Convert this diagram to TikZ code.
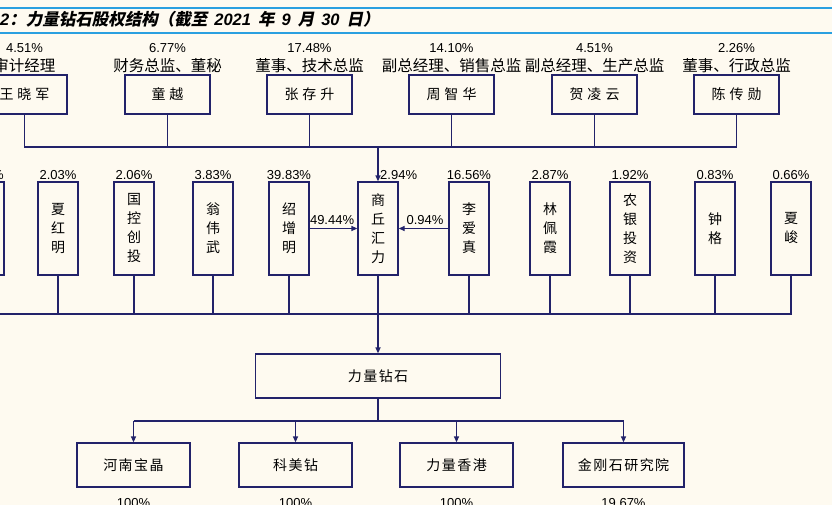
\documentclass[tikz,border=0pt]{standalone}
\usepackage{fontspec}
\setmainfont{Liberation Sans}
\newfontfamily\cjk{Noto Sans CJK SC}
\newfontfamily\cjkt[FakeSlant=0.2]{Noto Sans CJK SC}
\usetikzlibrary{arrows.meta}
\definecolor{bgc}{HTML}{FEFAF0}
\definecolor{nv}{HTML}{22226A}
\definecolor{blc}{HTML}{2AA0E0}
\newcommand\gp{\hspace{4pt}}
\newcommand\gq{\hspace{1.5pt}}
\newcommand\tsp{\hspace{7pt}}
\tikzset{
  pbox/.style={draw=nv, line width=1.3pt, fill=bgc, minimum width=85pt, minimum height=39pt, inner sep=0pt, font=\cjk\fontsize{14}{16}\selectfont},
  vbox/.style={draw=nv, line width=1.3pt, fill=bgc, minimum width=40pt, minimum height=93pt, inner sep=0pt, align=center, font=\cjk\fontsize{14}{19}\selectfont},
  bbox/.style={draw=nv, line width=1.3pt, fill=bgc, minimum height=44pt, inner sep=0pt, font=\cjk\fontsize{14}{16}\selectfont},
  pct/.style={font=\fontsize{13}{15}\selectfont, inner sep=0pt},
  role/.style={font=\cjk\fontsize{15.5}{17}\selectfont, inner sep=0pt},
  ln/.style={draw=nv, line width=1.3pt},
  thk/.style={draw=nv, line width=2.3pt},
  arr/.style={-{Triangle[length=6pt,width=5pt]}},
}
\begin{document}
\begin{tikzpicture}[x=1pt,y=-1pt]
\useasboundingbox (0,0) rectangle (832,505);
\fill[bgc] (0,0) rectangle (832,505);
% header
\draw[blc, line width=1.2pt] (0,8) -- (832,8);
\draw[blc, line width=1.2pt] (0,33) -- (832,33);
\node[anchor=west, inner sep=0pt] (title) at (0,19) {\fontsize{16.5}{18}\selectfont{\bfseries\itshape 2}{\cjkt\bfseries ：力量钻石股权结构（截至}\tsp{\bfseries\itshape 2021}\tsp{\cjkt\bfseries 年}\tsp{\bfseries\itshape 9}\tsp{\cjkt\bfseries 月}\tsp{\bfseries\itshape 30}\tsp{\cjkt\bfseries 日）}};
% top row
\foreach \n/\x/\p/\r/\t in {
  t1/24.5/4.51\%/审计经理/王\gp 晓\gp 军,
  t2/167.5/6.77\%/财务总监、董秘/童\gp 越,
  t3/309.5/17.48\%/董事、技术总监/张\gp 存\gp 升,
  t4/451.5/14.10\%/副总经理、销售总监/周\gp 智\gp 华,
  t5/594.5/4.51\%/副总经理、生产总监/贺\gp 凌\gp 云,
  t6/736.5/2.26\%/董事、行政总监/陈\gp 传\gp 勋}{
  \node[pbox] (\n) at (\x,94.5) {\t};
  \node[pct] (\n p) at (\x,48) {\p};
  \node[role] (\n r) at (\x,66) {\r};
}
% second row
\node[vbox] (s0) at (-16,228.5) {};
\node[pct, anchor=east] (s0p) at (4,175) {\%};
\foreach \n/\x/\p/\t in {
  s1/58/2.03\%/夏\\红\\明,
  s2/134/2.06\%/国\\控\\创\\投,
  s3/213/3.83\%/翁\\伟\\武,
  s4/289/39.83\%/绍\\增\\明,
  s6/469/16.56\%/李\\爱\\真,
  s7/550/2.87\%/林\\佩\\霞,
  s8/630/1.92\%/农\\银\\投\\资,
  s9/715/0.83\%/钟\\格,
  s10/791/0.66\%/夏\\峻}{
  \node[vbox] (\n) at (\x,228.5) {\t};
  \node[pct] (\n p) at (\x,175) {\p};
}
\node[vbox] (sq) at (378,228.5) {商\\丘\\汇\\力};
\node[pct, anchor=west] (sqp) at (380,175) {2.94\%};
% main company
\node[bbox, minimum width=245pt] (lz) at (378,376) {力\gq 量\gq 钻\gq 石};
% subsidiaries
\node[bbox, minimum width=113pt] (b1) at (133.5,465) {河\gq 南\gq 宝\gq 晶};
\node[bbox, minimum width=113pt] (b2) at (295.5,465) {科\gq 美\gq 钻};
\node[bbox, minimum width=113pt] (b3) at (456.5,465) {力\gq 量\gq 香\gq 港};
\node[bbox, minimum width=121pt] (b4) at (623.5,465) {金\gq 刚\gq 石\gq 研\gq 究\gq 院};
\node[pct] (b1p) at (133.5,503) {100\%};
\node[pct] (b2p) at (295.5,503) {100\%};
\node[pct] (b3p) at (456.5,503) {100\%};
\node[pct] (b4p) at (623.5,503) {19.67\%};
% connectors top
\coordinate (tl) at (0,147);
\draw[ln] (t1.south) -- (t1.south |- tl) -- (t6.south |- tl) -- (t6.south);
\foreach \n in {t2,t3,t4,t5} \draw[ln] (\n.south) -- (\n.south |- tl);
\draw[thk,arr] (sq.north |- tl) -- (sq.north);
% side arrows into sq
\draw[ln,arr] (s4.east) -- node[pct, above=3pt, pos=0.47] {49.44\%} (sq.west);
\draw[ln,arr] (s6.west) -- node[pct, above=3pt, pos=0.47] {0.94\%} (sq.east);
% bottom collector
\coordinate (bl) at (0,314);
\draw[ln] (s0.south) -- (s0.south |- bl) -- (s10.south |- bl) -- (s10.south);
\foreach \n in {s1,s2,s3,s4,sq,s6,s7,s8,s9} \draw[ln] (\n.south) -- (\n.south |- bl);
\draw[thk,arr] (sq.south |- bl) -- (lz.north);
% branch to subsidiaries
\coordinate (br) at (0,421);
\draw[ln] (lz.south) -- (lz.south |- br);
\draw[ln] (b1.north |- br) -- (b4.north |- br);
\foreach \n in {b1,b2,b3,b4} \draw[ln,arr] (\n.north |- br) -- (\n.north);
\end{tikzpicture}
\end{document}
